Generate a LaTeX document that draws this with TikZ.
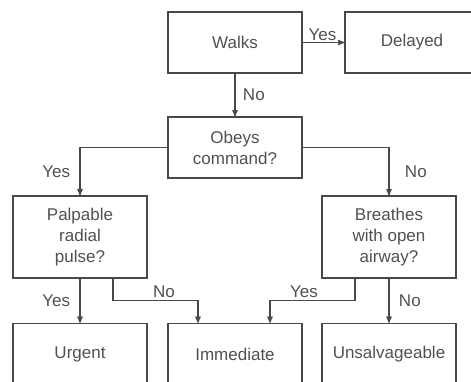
\documentclass[tikz,border=0pt]{standalone}
\usepackage{fontspec}
\setmainfont{Liberation Sans}
\usepackage{tikz}
\usetikzlibrary{arrows}
\definecolor{linegray}{RGB}{72,72,72}
\definecolor{textgray}{RGB}{80,80,80}

\begin{document}
\begin{tikzpicture}[->,>=stealth',x=1bp,y=-1bp,line width=1.3bp,draw=linegray,
                    font=\fontsize{17bp}{21bp}\selectfont]
  \tikzstyle{box}=[draw=linegray,text=textgray,rectangle,align=center,
                   minimum width=134bp,minimum height=61bp,inner sep=2bp]
  \tikzstyle{every node}=[text=textgray]
  \tikzstyle{tall box}=[box,minimum height=82bp]
  \useasboundingbox (0,0) rectangle (471,381);
  \clip (0,0) rectangle (471,381);

  \node[box]      (walks)   at (235,42.5)  {Walks};
  \node[box,minimum width=150bp] (delayed) at (420,42.5) {Delayed\hspace*{16bp}};
  \node[box]      (obeys)   at (235,147.5) {Obeys\\command?};
  \node[tall box] (pulse)   at (80,237)    {Palpable\\radial\\pulse?};
  \node[tall box] (breathe) at (389,237)   {Breathes\\with open\\airway?};
  \node[box]      (urgent)  at (80,354)    {Urgent};
  \node[box]      (immed)   at (235,354)   {Immediate};
  \node[box]      (unsalv)  at (389,354)   {Unsalvageable};

  \path (walks) edge node[above,inner sep=1bp,xshift=-1bp] {Yes} (delayed)
        (walks) edge node[right,xshift=4bp] {No} (obeys);
  \draw (obeys.west) -| node[pos=0.75,left,xshift=-6bp] {Yes} (pulse.north);
  \draw (obeys.east) -| node[pos=0.75,right,xshift=12bp] {No} (breathe.north);
  \draw (pulse) -- node[left,xshift=-6bp] {Yes} (urgent);
  \draw (breathe) -- node[right,xshift=6bp] {No} (unsalv);
  \draw ([xshift=33bp]pulse.south) -- ++(0,22)
        -| node[pos=0.3,above,yshift=-1bp] {No} ([xshift=-37bp]immed.north);
  \draw ([xshift=-34bp]breathe.south) -- ++(0,22)
        -| node[pos=0.3,above,yshift=-1bp] {Yes} ([xshift=35bp]immed.north);
\end{tikzpicture}
\end{document}
